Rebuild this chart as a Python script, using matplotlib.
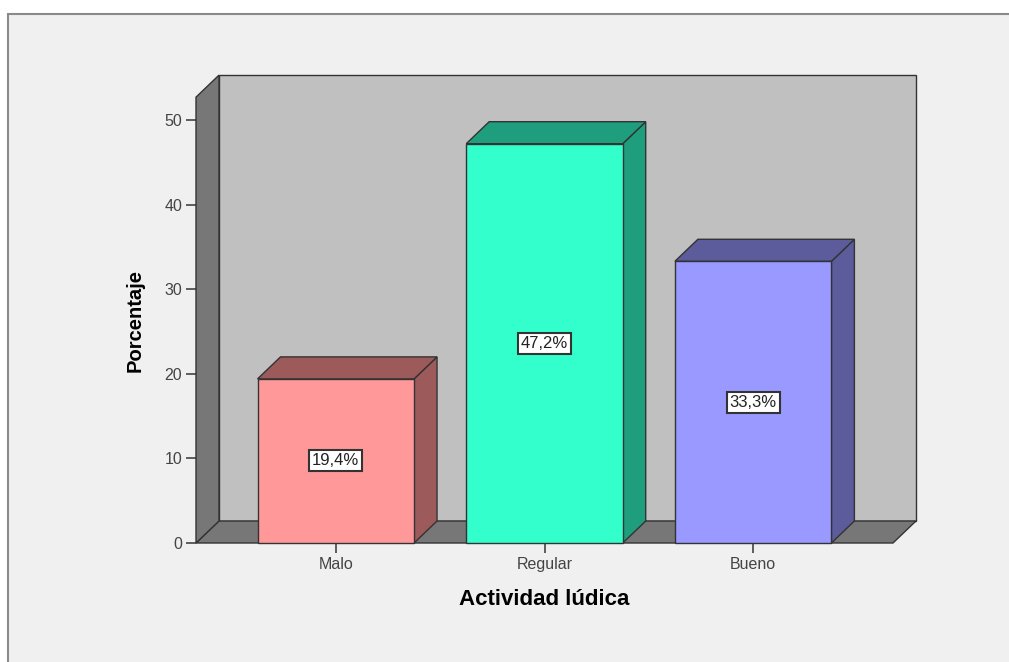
import numpy as np
import matplotlib.pyplot as plt
from matplotlib.patches import Polygon, Rectangle

plt.rcParams['font.family'] = ['Liberation Sans', 'DejaVu Sans']

# data
categories = ["Malo", "Regular", "Bueno"]
percent = [19.4, 47.2, 33.3]
labels = ["19,4%", "47,2%", "33,3%"]
front_colors = ["#ff9999", "#33ffcc", "#9999ff"]
shade_colors = ["#9c5a5a", "#1f9e7e", "#5c5c9c"]

# 3d look: depth offset in data units
dx, dy = 0.11, 2.6
x0, x1 = -0.67, 2.67
wall_top = 52.7
bar_w = 0.75
edge = "#333333"

fig = plt.figure(figsize=(10.09, 6.62), dpi=100)
fig.patch.set_facecolor("white")
# grey panel behind the chart
fig.patches.append(Rectangle((8 / 1009, -0.1), 1.2, 1 - 14 / 662 + 0.1,
                             transform=fig.transFigure, facecolor="#f0f0f0",
                             edgecolor="#8a8a8a", linewidth=1.5, zorder=-1))

ax = fig.add_axes([196 / 1009, 1 - 543 / 662, 697 / 1009, 56 * 8.46 / 662])
ax.set_xlim(x0, x1)
ax.set_ylim(0, 56)
ax.patch.set_visible(False)
for s in ax.spines.values():
    s.set_visible(False)

def poly(pts, fc, z):
    ax.add_patch(Polygon(pts, closed=True, facecolor=fc, edgecolor=edge,
                         linewidth=1, zorder=z, clip_on=False))

# back wall, floor, side wall
poly([(x0 + dx, dy), (x1 + dx, dy), (x1 + dx, wall_top + dy), (x0 + dx, wall_top + dy)], "#c0c0c0", 1)
poly([(x0, 0), (x1, 0), (x1 + dx, dy), (x0 + dx, dy)], "#777777", 2)
poly([(x0, 0), (x0 + dx, dy), (x0 + dx, wall_top + dy), (x0, wall_top)], "#777777", 2)

# bars
xs = np.arange(len(categories))
for x, v, lab, fc, sc in zip(xs, percent, labels, front_colors, shade_colors):
    l, r = x - bar_w / 2, x + bar_w / 2
    poly([(r, 0), (r + dx, dy), (r + dx, v + dy), (r, v)], sc, 3)
    poly([(l, v), (r, v), (r + dx, v + dy), (l + dx, v + dy)], sc, 3)
    poly([(l, 0), (r, 0), (r, v), (l, v)], fc, 4)
    ax.text(x, v / 2, lab, ha="center", va="center", fontsize=12, color="#222222", zorder=5,
            bbox=dict(boxstyle="square,pad=0.18", facecolor="white", edgecolor="#333333", linewidth=1.5))

ax.set_xticks(xs)
ax.set_xticklabels(categories)
ax.set_yticks([0, 10, 20, 30, 40, 50])
ax.tick_params(axis="both", direction="out", length=7, width=1.2, color="#444444",
               labelsize=11.5, labelcolor="#444444", pad=3)

ax.set_xlabel("Actividad lúdica", fontsize=16, fontweight="bold", labelpad=12)
ax.set_ylabel("Porcentaje", fontsize=14.5, fontweight="bold")
# place the y label by pixel position
ax.yaxis.set_label_coords(145 / 1009, 1 - 320 / 662, transform=fig.transFigure)

plt.savefig("out.png", dpi=100)
